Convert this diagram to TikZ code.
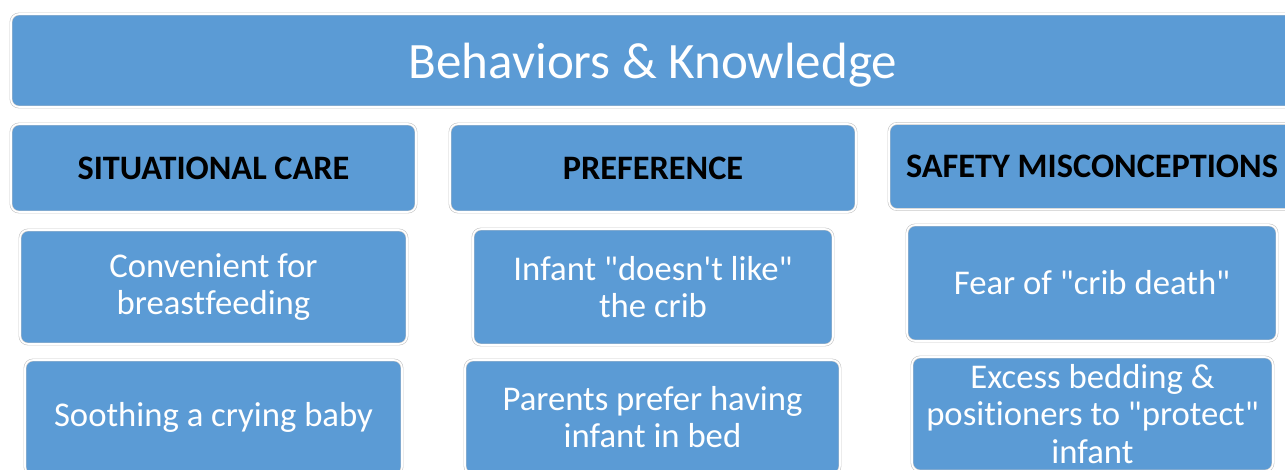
\documentclass[tikz,border=0pt]{standalone}
\usepackage{fontspec}
\defaultfontfeatures{}
\setmainfont{Carlito}[Ligatures={TeXOff,CommonOff}]
\definecolor{boxblue}{HTML}{5B9BD5}
\definecolor{boxedge}{HTML}{C8C8C8}
\begin{document}
\begin{tikzpicture}[x=1pt,y=-1pt,
  box/.style={rectangle, rounded corners=8pt, fill=boxblue, draw=boxedge, double=white, double distance=1.6pt, line width=0.6pt, inner sep=0pt, align=center},
  titlebox/.style={box, text=white, font=\fontsize{51}{60}\selectfont},
  headbox/.style={box, text=black, font=\fontsize{34.3}{40}\selectfont\bfseries},
  itembox/.style={box, text=white, font=\fontsize{34.7}{37.5}\selectfont}]
\useasboundingbox (0,0) rectangle (1285,469);
\clip (0,0) rectangle (1285,469);
\node[titlebox, minimum width=1284pt, minimum height=93pt, text depth=0pt] (title) at (653,60.5) {Behaviors \& Knowledge};
\node[headbox, minimum width=405pt, minimum height=88pt] (h1) at (213.5,168) {SITUATIONAL CARE};
\node[headbox, minimum width=406pt, minimum height=88pt] (h2) at (653,168) {PREFERENCE};
\node[headbox, minimum width=406pt, minimum height=86pt] (h3) at (1092,166.5) {SAFETY MISCONCEPTIONS};
\node[itembox, minimum width=387pt, minimum height=114pt] (a1) at (213.5,287) {Convenient for\\breastfeeding};
\node[itembox, minimum width=377pt, minimum height=115pt] (a2) at (213.5,417.5) {Soothing a crying baby};
\node[itembox, minimum width=360pt, minimum height=116pt] (b1) at (653,287) {Infant "doesn't like"\\the crib};
\node[itembox, minimum width=375pt, minimum height=114pt] (b2) at (652.5,417) {Parents prefer having\\infant in bed};
\node[itembox, minimum width=370pt, minimum height=116pt] (c1) at (1092,283) {Fear of "crib death"};
\node[itembox, minimum width=361pt, minimum height=114pt] (c2) at (1092.5,414) {Excess bedding \&\\positioners to "protect"\\infant};
\end{tikzpicture}
\end{document}
